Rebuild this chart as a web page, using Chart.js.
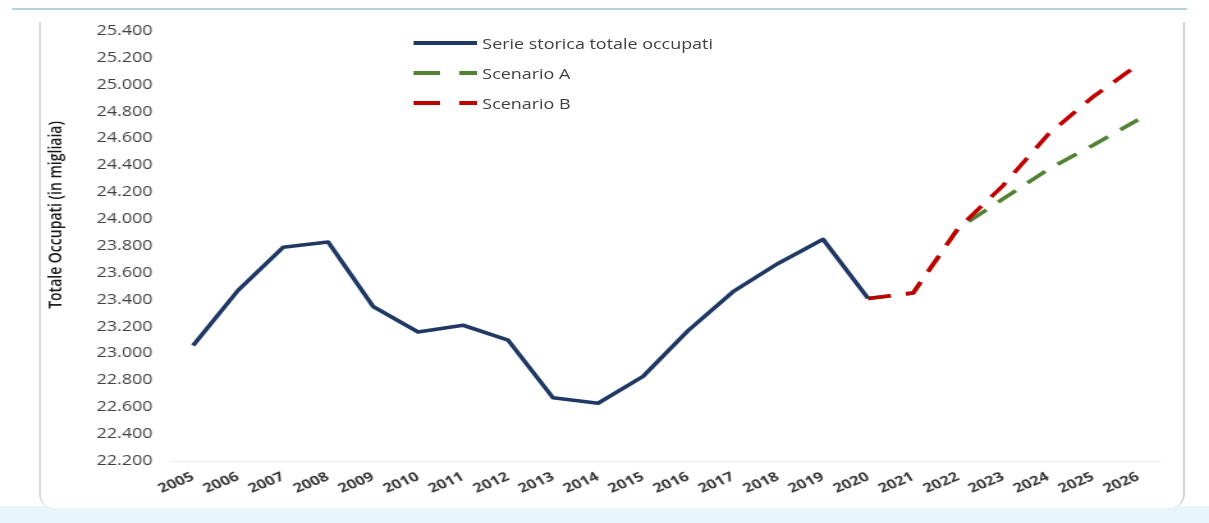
<!DOCTYPE html>
<html lang="it">
<head>
<meta charset="utf-8">
<title>Totale occupati</title>
<script src="https://cdn.jsdelivr.net/npm/chart.js@4/dist/chart.umd.min.js"></script>
<style>
  html, body { margin: 0; padding: 0; background: #fff; }
  .page { position: relative; width: 1209px; height: 523px; overflow: hidden; background: #fff; }
  .bottom-strip { position: absolute; left: 0; right: 0; top: 506px; bottom: 0; background: #e7f4fa; }
  .top-rule { position: absolute; left: 12px; top: 8px; width: 1175px; height: 2px; background: #b7d2de; }
  .card { position: absolute; left: 39px; top: 22px; width: 1142px; height: 486px;
          background: #fff; border-left: 2px solid #d9d9d9; border-right: 2px solid #d4d4d4;
          border-bottom-left-radius: 14px; border-bottom-right-radius: 14px; }
  /* the original picture is a horizontally stretched screenshot, so the drawing is stretched the same way */
  .stretch { position: absolute; left: 0; top: 0; width: 945px; height: 523px;
             transform: scaleX(1.2794); transform-origin: 0 0; }
  canvas { position: absolute; left: 0; top: 0; }
  .legend { position: absolute; left: 323px; top: 28px; font-family: "Open Sans", "Liberation Sans", sans-serif;
            font-size: 14px; color: #404040; }
  .legend-item { display: flex; align-items: center; height: 30px; }
  .legend-item svg { width: 50px; height: 8px; margin-right: 4px; }
</style>
</head>
<body>
<div class="page">
  <div class="bottom-strip"></div>
  <div class="top-rule"></div>
  <div class="card"></div>
  <div class="stretch">
    <canvas id="chart" width="945" height="523"></canvas>
    <div class="legend" id="legend"></div>
  </div>
</div>
<script>
// ── Data (values in thousands) ──
const years = ['2005', '2006', '2007', '2008', '2009', '2010', '2011', '2012', '2013', '2014', '2015',
               '2016', '2017', '2018', '2019', '2020', '2021', '2022', '2023', '2024', '2025', '2026'];
const historic = [23060, 23470, 23790, 23830, 23350, 23160, 23210, 23100, 22670, 22630, 22830,
                  23170, 23460, 23670, 23850, 23410, null, null, null, null, null, null];
const scenarioA = [null, null, null, null, null, null, null, null, null, null, null,
                   null, null, null, null, 23410, 23450, 23930, 24150, 24370, 24550, 24740];
const scenarioB = [null, null, null, null, null, null, null, null, null, null, null,
                   null, null, null, null, 23410, 23450, 23930, 24250, 24630, 24910, 25150];
const yMin = 22200, yMax = 25400, yStep = 200;
const yTitle = 'Totale Occupati (in migliaia)';

const NAVY = '#1f3864', GREEN = '#548235', RED = '#c00000';
const DASH = [18, 12];
const FONT = '"Open Sans", "Liberation Sans", sans-serif';

// thousands separator with a dot, e.g. 25400 -> "25.400"
function fmt(v) {
    return String(v).replace(/\B(?=(\d{3})+(?!\d))/g, '.');
}

// Rotated y-axis title, placed a bit above the axis middle like the original
const yTitlePlugin = {
    id: 'yTitle',
    afterDraw(chart) {
        const ctx = chart.ctx;
        ctx.save();
        ctx.translate(44.5, 215);
        ctx.rotate(-Math.PI / 2);
        ctx.font = '600 14px ' + FONT;
        ctx.fillStyle = '#1a1a1a';
        ctx.textAlign = 'center';
        ctx.textBaseline = 'middle';
        ctx.fillText(yTitle, 0, 0);
        ctx.restore();
    }
};

const datasets = [
    { label: 'Serie storica totale occupati', data: historic, color: NAVY, dash: [], order: 0 },
    { label: 'Scenario A', data: scenarioA, color: GREEN, dash: DASH, order: 2 },
    { label: 'Scenario B', data: scenarioB, color: RED, dash: DASH, order: 1 }
];

new Chart(document.getElementById('chart'), {
    type: 'line',
    data: {
        labels: years,
        datasets: datasets.map(d => ({
            label: d.label, data: d.data, borderColor: d.color, backgroundColor: d.color,
            borderWidth: 3.6, borderDash: d.dash, order: d.order,
            pointRadius: 0, tension: 0, spanGaps: false, borderCapStyle: 'butt', borderJoinStyle: 'round'
        }))
    },
    options: {
        responsive: false,
        animation: false,
        layout: { padding: { left: 40, right: 37.9, top: 31, bottom: 10 } },
        plugins: { legend: { display: false }, tooltip: { enabled: false } },
        scales: {
            x: {
                offset: true,
                grid: { display: false, drawTicks: false },
                border: { display: true, color: '#eeeeee', width: 1 },
                ticks: {
                    minRotation: 28, maxRotation: 28, autoSkip: false, padding: 8,
                    color: '#3a3a3a', font: { family: FONT, size: 13, weight: 'bold' }
                },
                afterFit(s) { s.height = 52; }
            },
            y: {
                min: yMin, max: yMax,
                grid: { display: false, drawTicks: false },
                border: { display: false },
                ticks: {
                    stepSize: yStep, padding: 14, color: '#404040',
                    font: { family: FONT, size: 14 },
                    callback: v => fmt(v)
                },
                afterFit(s) { s.width = 93.3; }
            }
        }
    },
    plugins: [yTitlePlugin]
});

// ── HTML legend (sits inside the plot, left of centre, like the original) ──
const legend = document.getElementById('legend');
datasets.forEach(d => {
    const item = document.createElement('div');
    item.className = 'legend-item';
    const line = d.dash.length
        ? `<line x1="0" y1="4" x2="21" y2="4" stroke="${d.color}" stroke-width="4"/>
           <line x1="36" y1="4" x2="50" y2="4" stroke="${d.color}" stroke-width="4"/>`
        : `<line x1="0" y1="4" x2="50" y2="4" stroke="${d.color}" stroke-width="4"/>`;
    item.innerHTML = `<svg viewBox="0 0 50 8">${line}</svg><span>${d.label}</span>`;
    legend.appendChild(item);
});
</script>
</body>
</html>
